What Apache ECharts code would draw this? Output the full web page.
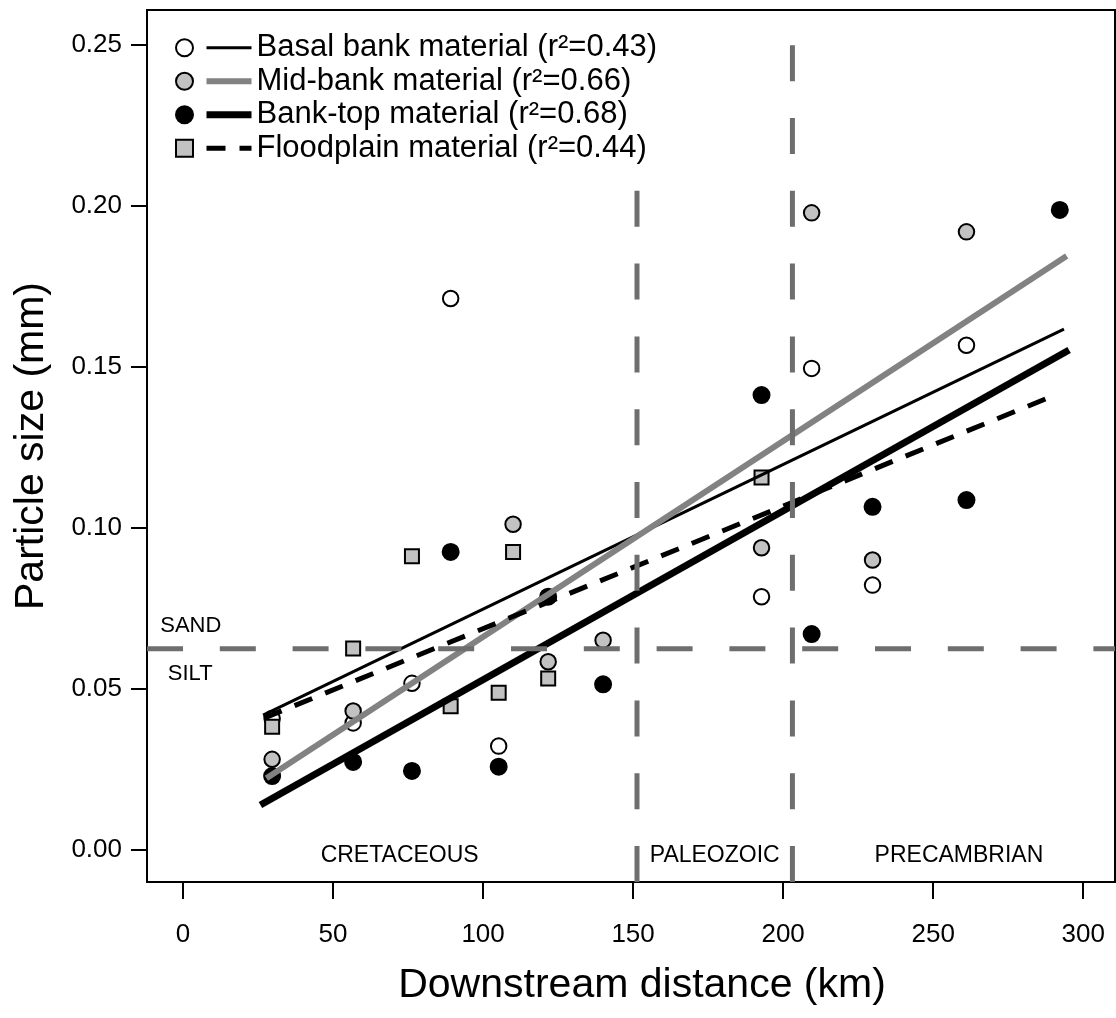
<!DOCTYPE html>
<html><head><meta charset="utf-8">
<script src="https://cdn.jsdelivr.net/npm/echarts@6/dist/echarts.min.js"></script>
<style>html,body{margin:0;padding:0;background:#fff}#c{width:1116px;height:1018px}</style>
</head><body><div id="c"></div>
<script>
// ---- data ----
const basalKm = [29.7, 56.7, 76.3, 89.2, 105.2, 192.8, 209.5, 229.8, 261.1];
const basalMm = [0.0409, 0.0395, 0.0518, 0.1713, 0.0323, 0.0787, 0.1496, 0.0823, 0.1568];
const midKm = [29.7, 56.7, 110.0, 121.7, 140.0, 192.8, 209.5, 229.8, 261.1];
const midMm = [0.0282, 0.0432, 0.1012, 0.0585, 0.0652, 0.0939, 0.1979, 0.0901, 0.1920];
const topKm = [29.7, 56.7, 76.3, 89.2, 105.2, 121.7, 140.0, 192.8, 209.5, 229.8, 261.1, 292.2];
const topMm = [0.0230, 0.0274, 0.0246, 0.0926, 0.0259, 0.0787, 0.0515, 0.1413, 0.0671, 0.1066, 0.1087, 0.1988];
const floodKm = [29.7, 56.7, 76.3, 89.2, 105.2, 110.0, 121.7, 192.8];
const floodMm = [0.0383, 0.0626, 0.0913, 0.0447, 0.0489, 0.0926, 0.0533, 0.1157];

const basalFitKm = [26.7, 293.6], basalFitMm = [0.0419, 0.1618];
const midFitKm = [27.8, 294.5], midFitMm = [0.0223, 0.1845];
const topFitKm = [25.8, 295.3], topFitMm = [0.0140, 0.1553];
const floodFitKm = [27.0, 290.6], floodFitMm = [0.0410, 0.1413];

const seriesLabels = ['Basal bank material (r\u00b2=0.43)', 'Mid-bank material (r\u00b2=0.66)',
  'Bank-top material (r\u00b2=0.68)', 'Floodplain material (r\u00b2=0.44)'];
const pointNames = ['Basal bank points', 'Mid-bank points', 'Bank-top points', 'Floodplain points'];

const zoneBoundaryKm = [151.3, 203.1];
const sandSiltMm = 0.0625;
const zoneNames = ['CRETACEOUS', 'PALEOZOIC', 'PRECAMBRIAN'];
const zoneLabelKm = [72.2, 177.2, 258.6];
const zoneLabelMm = [-0.0016, -0.0016, -0.0016];
const sizeClassNames = ['SAND', 'SILT'];
const sizeClassKm = [2.6, 2.4];
const sizeClassMm = [0.0696, 0.0548];

const xTicks = [0, 50, 100, 150, 200, 250, 300];
const yTicks = [0, 0.05, 0.10, 0.15, 0.20, 0.25];
const xMin = -12.0, xMax = 310.6, yMin = -0.0099, yMax = 0.2609;

// ---- chart ----
const FONT = '"Liberation Sans", Arial, Helvetica, sans-serif';
const zip = (a, b) => a.map((v, i) => [v, b[i]]);

const pointStyles = [
  {symbol: 'circle', size: 15.5, itemStyle: {color: '#ffffff', borderColor: '#000', borderWidth: 2, opacity: 1}},
  {symbol: 'circle', size: 15.5, itemStyle: {color: '#c2c2c2', borderColor: '#000', borderWidth: 2, opacity: 1}},
  {symbol: 'circle', size: 16, itemStyle: {color: '#000000', borderColor: '#000', borderWidth: 2, opacity: 1}},
  {symbol: 'rect', size: 14, itemStyle: {color: '#c2c2c2', borderColor: '#000', borderWidth: 2, opacity: 1}}
];
const pointData = [zip(basalKm, basalMm), zip(midKm, midMm), zip(topKm, topMm), zip(floodKm, floodMm)];
const fitData = [zip(basalFitKm, basalFitMm), zip(midFitKm, midFitMm), zip(topFitKm, topFitMm), zip(floodFitKm, floodFitMm)];
const fitStyles = [
  {color: '#000', width: 3, type: 'solid'},
  {color: '#828282', width: 6, type: 'solid'},
  {color: '#000', width: 7, type: 'solid'},
  {color: '#000', width: 5, type: [19, 14]}
];

const series = [];
pointData.forEach((d, i) => {
  series.push({
    type: 'scatter', name: pointNames[i], data: d,
    symbol: pointStyles[i].symbol, symbolSize: pointStyles[i].size,
    itemStyle: pointStyles[i].itemStyle, silent: true
  });
});
fitData.forEach((d, i) => {
  series.push({
    type: 'line', name: seriesLabels[i], data: d, symbol: 'none',
    lineStyle: fitStyles[i], itemStyle: {color: fitStyles[i].color}, silent: true
  });
});
const refLine = {color: '#6e6e6e', width: 5, type: [36, 36.8]};
zoneBoundaryKm.forEach(k => {
  series.push({type: 'line', name: 'boundary', data: [[k, yMin], [k, yMax]], symbol: 'none',
    lineStyle: refLine, silent: true});
});
series.push({type: 'line', name: 'sandsilt', data: [[xMin, sandSiltMm], [xMax, sandSiltMm]], symbol: 'none',
  lineStyle: refLine, silent: true});
series.push({
  type: 'scatter', name: 'zones', symbolSize: 0, silent: true, itemStyle: {opacity: 1},
  data: zoneNames.map((n, i) => ({name: n, value: [zoneLabelKm[i], zoneLabelMm[i]]})),
  label: {show: true, position: 'inside', formatter: p => p.name, color: '#000', opacity: 1, fontSize: 23, fontFamily: FONT}
});
series.push({
  type: 'scatter', name: 'classes', symbolSize: 0, silent: true, itemStyle: {opacity: 1},
  data: sizeClassNames.map((n, i) => ({name: n, value: [sizeClassKm[i], sizeClassMm[i]]})),
  label: {show: true, position: 'inside', formatter: p => p.name, color: '#000', opacity: 1, fontSize: 22, fontFamily: FONT}
});

const option = {
  animation: false,
  backgroundColor: '#fff',
  grid: {left: 147, right: 1, top: 10, bottom: 136, show: true, borderColor: '#000', borderWidth: 2, backgroundColor: 'transparent'},
  xAxis: {
    type: 'value', min: xMin, max: xMax,
    name: 'Downstream distance (km)', nameLocation: 'middle', nameGap: 83,
    nameTextStyle: {fontSize: 41, color: '#000', fontFamily: FONT, padding: [0, 0, 0, 22]},
    axisLine: {show: true, onZero: false, lineStyle: {color: '#000', width: 2}},
    axisTick: {show: true, length: 17, lineStyle: {color: '#000', width: 2}, customValues: xTicks},
    axisLabel: {show: true, customValues: xTicks, margin: 40, fontSize: 26, color: '#000', fontFamily: FONT},
    splitLine: {show: false}
  },
  yAxis: {
    type: 'value', min: yMin, max: yMax,
    name: 'Particle size (mm)', nameLocation: 'middle', nameGap: 95,
    nameTextStyle: {fontSize: 41, color: '#000', fontFamily: FONT},
    axisLine: {show: true, onZero: false, lineStyle: {color: '#000', width: 2}},
    axisTick: {show: true, length: 16, lineStyle: {color: '#000', width: 2}, customValues: yTicks},
    axisLabel: {show: true, customValues: yTicks, margin: 25, fontSize: 26, color: '#000', fontFamily: FONT,
      formatter: v => v.toFixed(2)},
    splitLine: {show: false}
  },
  legend: [
    {
      data: pointNames, orient: 'vertical', left: 175, top: 31, padding: 0, itemGap: 0,
      itemWidth: 17, itemHeight: 17, selectedMode: false,
      formatter: () => ' ',
      textStyle: {fontSize: 31, lineHeight: 33.5, fontFamily: FONT}
    },
    {
      data: seriesLabels, orient: 'vertical', left: 203, top: 31, padding: [0, 6, 22, 0], itemGap: 0,
      itemWidth: 45, itemHeight: 17, selectedMode: false, backgroundColor: '#fff',
      itemStyle: {color: 'transparent', borderWidth: 0},
      lineStyle: {width: 'inherit', type: 'inherit', color: 'inherit'},
      textStyle: {fontSize: 31, lineHeight: 33.5, color: '#000', fontFamily: FONT}
    }
  ],
  series: series
};
const chart = echarts.init(document.getElementById('c'), null, {renderer: 'canvas'});
chart.setOption(option);
</script>
</body></html>
